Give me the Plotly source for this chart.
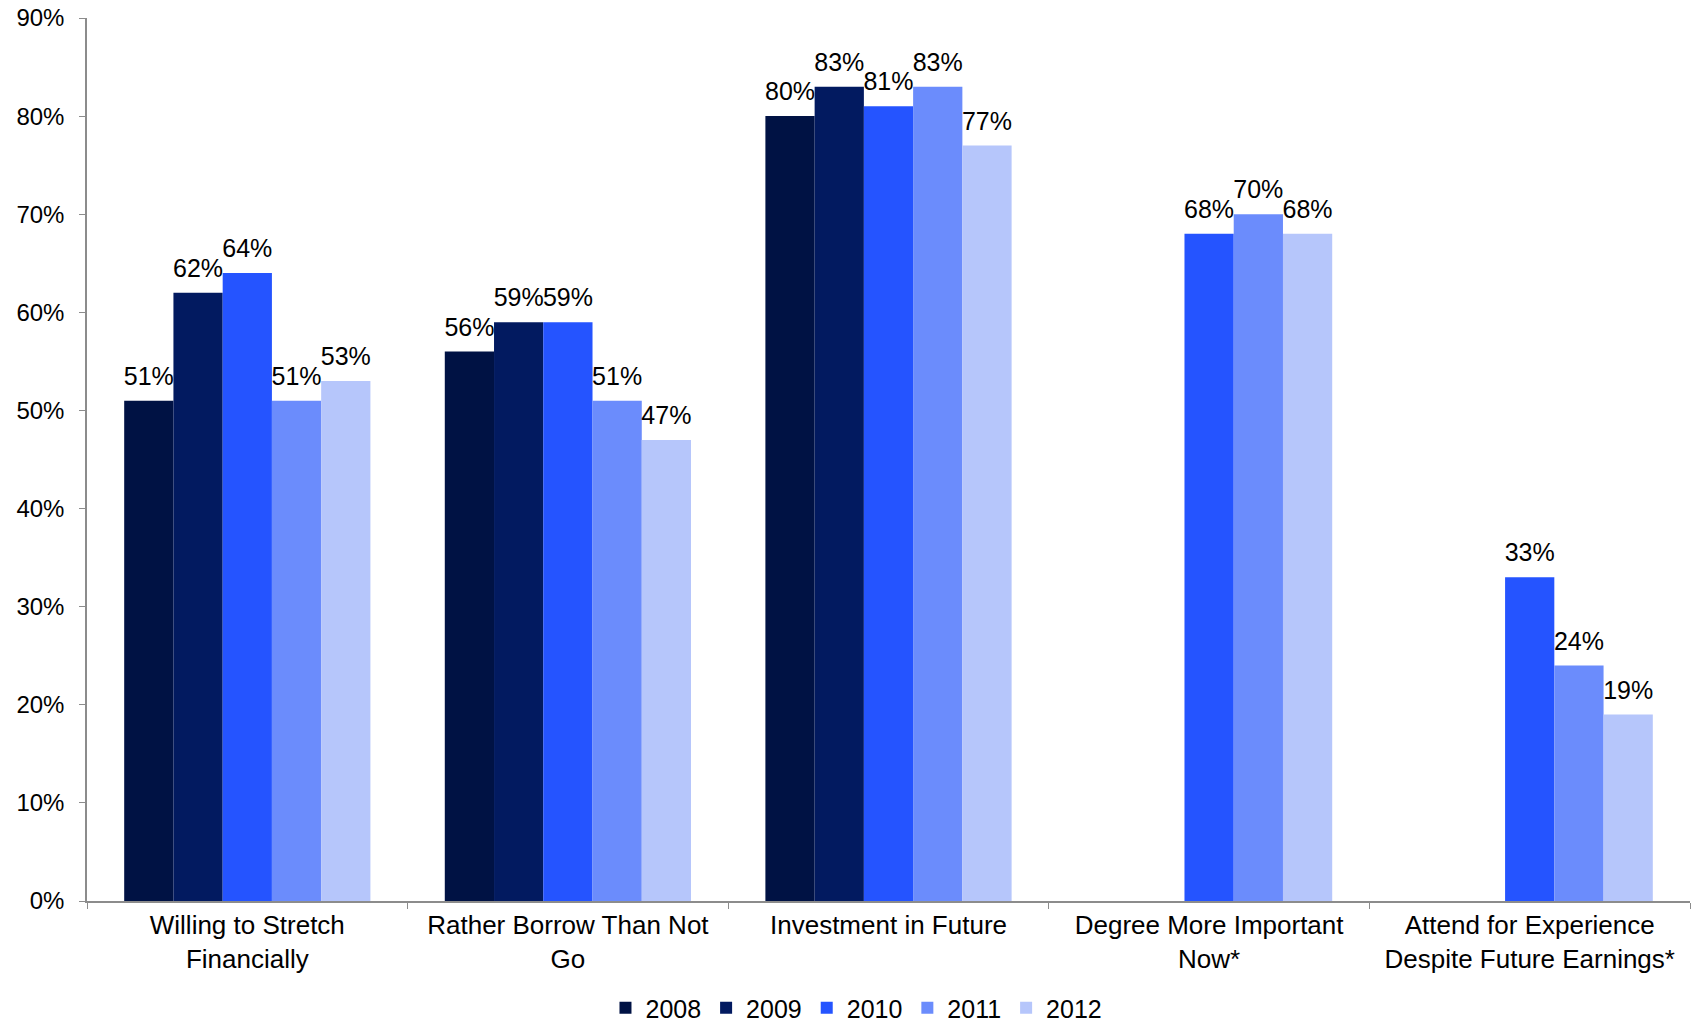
import plotly.graph_objects as go

categories = ["Willing to Stretch<br>Financially", "Rather Borrow Than Not<br>Go",
              "Investment in Future", "Degree More Important<br>Now*",
              "Attend for Experience<br>Despite Future Earnings*"]
years = ["2008", "2009", "2010", "2011", "2012"]
v2008 = [51, 56, 80, None, None]
v2009 = [62, 59, 83, None, None]
v2010 = [64, 59, 81, 68, 33]
v2011 = [51, 51, 83, 70, 24]
v2012 = [53, 47, 77, 68, 19]
series = [v2008, v2009, v2010, v2011, v2012]
colors = ["#001244", "#021a60", "#2554ff", "#6b8cfc", "#b6c6fb"]

GAP = 0.232
fig = go.Figure()
for name, vals, col in zip(years, series, colors):
    fig.add_trace(go.Bar(
        name=name, x=categories, y=vals, marker_color=col,
        marker_line_width=0, offsetgroup=name,
    ))
for name, vals in zip(years, series):
    fig.add_trace(go.Scatter(
        x=categories, y=vals, mode="markers+text", offsetgroup=name,
        text=[f"{v}%" if v is not None else "" for v in vals],
        textposition="top center", showlegend=False, hoverinfo="skip",
        marker=dict(size=14, color="rgba(0,0,0,0)"), cliponaxis=False,
        textfont=dict(family="Liberation Sans, Arial", size=25, color="#000"),
    ))

fig.update_layout(
    width=1696, height=1031, barmode="group", bargap=GAP, bargroupgap=0,
    scattermode="group", scattergap=GAP,
    plot_bgcolor="white", paper_bgcolor="white",
    font=dict(family="Liberation Sans, Arial", size=24, color="#000"),
    margin=dict(l=87, r=6, t=18, b=130, autoexpand=False),
    showlegend=True,
    legend=dict(orientation="h", xref="container", x=0.505, xanchor="center",
                yref="container", y=0.0, yanchor="bottom",
                font=dict(size=25), traceorder="normal",
                itemsizing="constant"),
)
fig.update_yaxes(range=[0, 90], dtick=10, ticksuffix="%", showgrid=False,
                 showline=True, linecolor="#8c8c8c", linewidth=1.5,
                 ticks="outside", ticklen=6, tickcolor="#8c8c8c", zeroline=False,
                 automargin=False, ticklabelstandoff=10, ticklabeloverflow="allow",
                 tickfont=dict(size=24))
fig.update_xaxes(showline=True, linecolor="#8c8c8c", linewidth=1.5,
                 ticks="outside", ticklen=6, tickcolor="#8c8c8c",
                 tickson="boundaries", showgrid=False, automargin=False,
                 ticklabeloverflow="allow", tickfont=dict(size=26))

fig.write_html("out.html", config={"displayModeBar": False},
               post_script="document.body.style.margin='0';")
